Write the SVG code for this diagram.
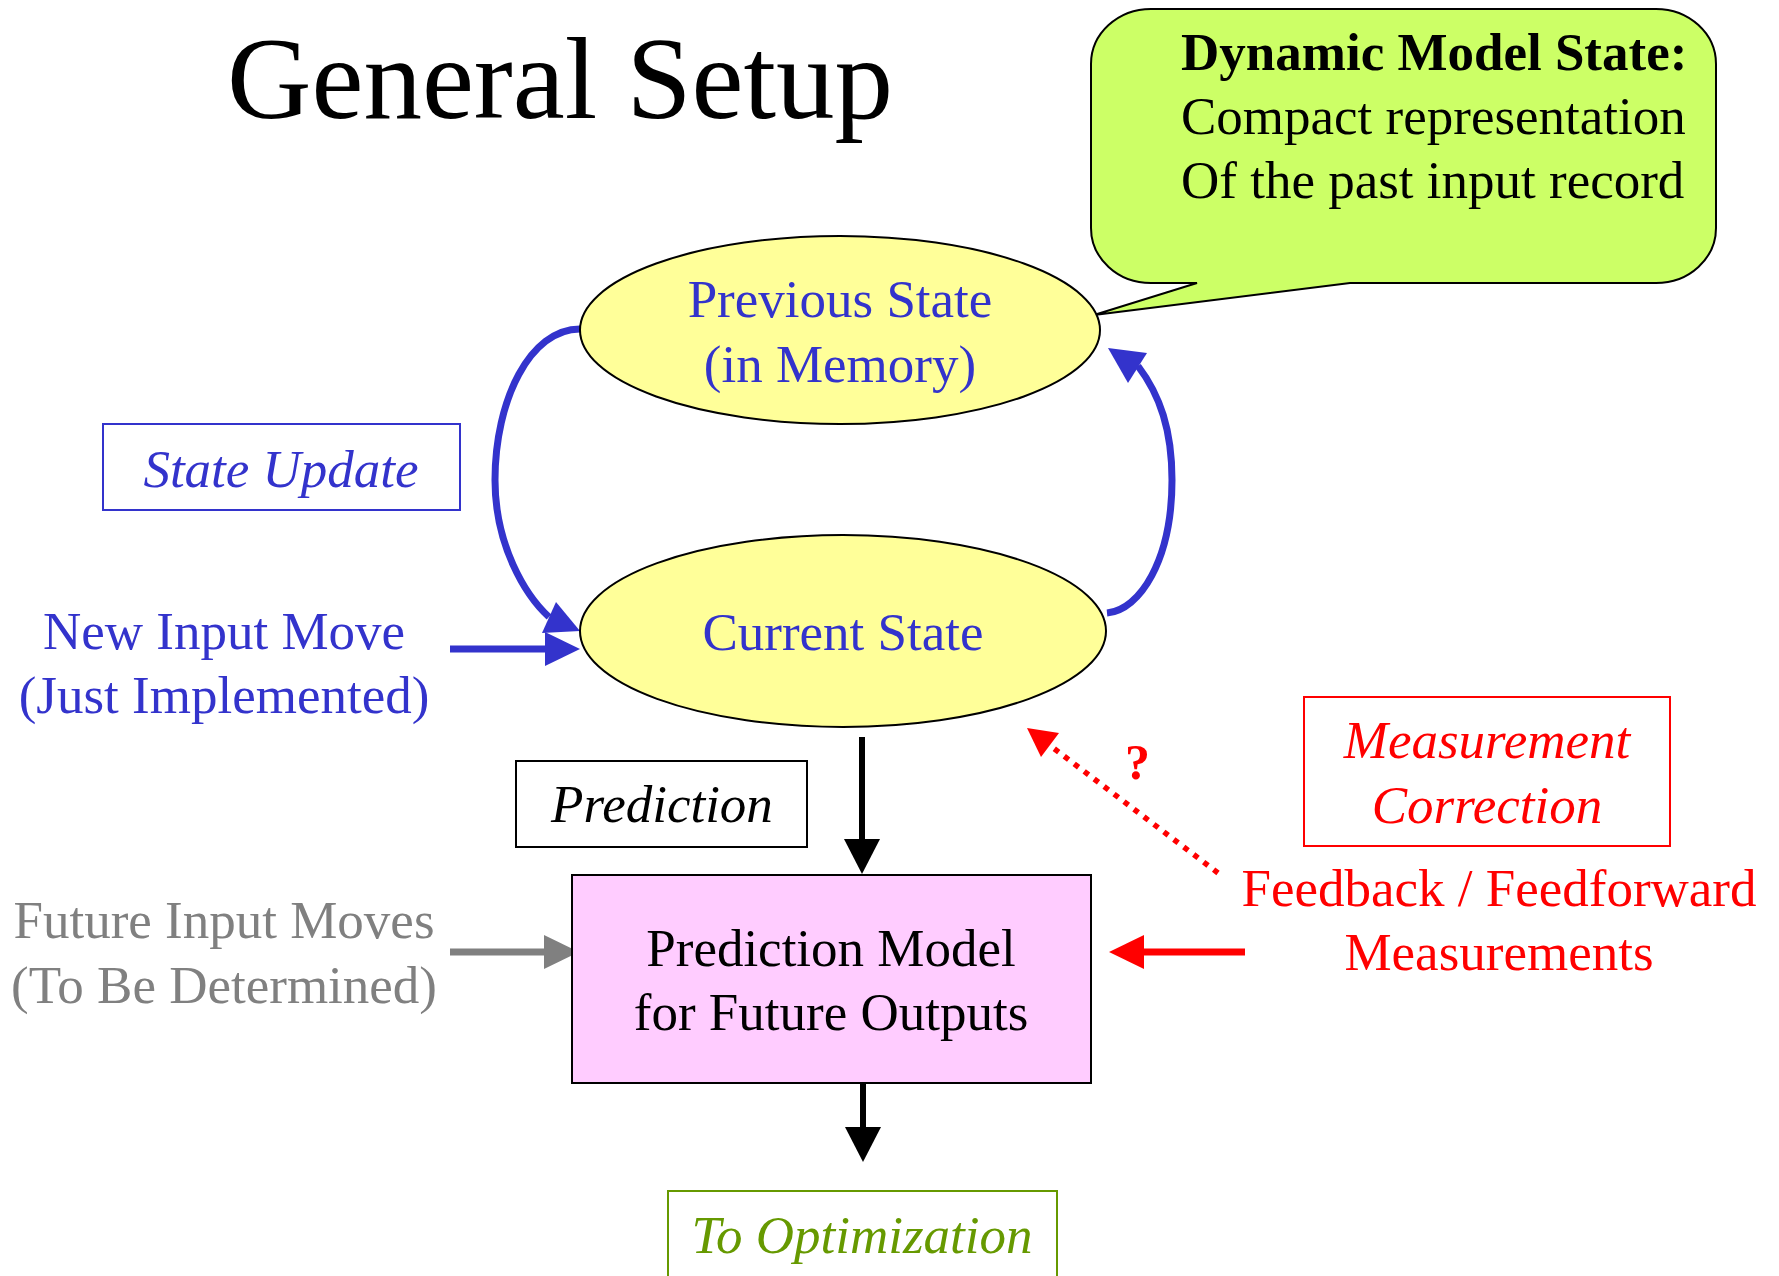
<svg xmlns="http://www.w3.org/2000/svg" width="1779" height="1276" viewBox="0 0 1779 1276">
  <style>
    text { font-family: "Liberation Serif", "Times New Roman", serif; font-size: 53px; }
    .mid { text-anchor: middle; }
    .it { font-style: italic; }
    .blue { fill: #3333CC; }
    .red { fill: #FF0000; }
    .gray { fill: #808080; }
    .green { fill: #669900; }
    .black { fill: #000000; }
    .state { fill: #FFFF99; stroke: #000000; stroke-width: 2; }
    .label { fill: #FFFFFF; stroke-width: 2; }
    .wire { fill: none; stroke-linecap: butt; }
  </style>
  <defs>
    <marker id="head-blue" markerUnits="userSpaceOnUse" markerWidth="36" markerHeight="34" refX="1" refY="17" orient="auto" overflow="visible">
      <path d="M0,0 L35,17 L0,34 Z" fill="#3333CC"/>
    </marker>
    <marker id="head-gray" markerUnits="userSpaceOnUse" markerWidth="36" markerHeight="34" refX="1" refY="17" orient="auto" overflow="visible">
      <path d="M0,0 L35,17 L0,34 Z" fill="#808080"/>
    </marker>
    <marker id="head-red" markerUnits="userSpaceOnUse" markerWidth="36" markerHeight="34" refX="1" refY="17" orient="auto" overflow="visible">
      <path d="M0,0 L35,17 L0,34 Z" fill="#FF0000"/>
    </marker>
    <marker id="head-black" markerUnits="userSpaceOnUse" markerWidth="36" markerHeight="36" refX="1" refY="18" orient="auto" overflow="visible">
      <path d="M0,0 L35,18 L0,36 Z" fill="#000000"/>
    </marker>
  </defs>

  <rect width="1779" height="1276" fill="#FFFFFF"/>

  <!-- title -->
  <text x="560" y="118" class="mid black" style="font-size:117px">General Setup</text>

  <!-- callout -->
  <g id="callout">
    <path d="M1151,9 H1656 A60,55 0 0 1 1716,64 V228 A60,55 0 0 1 1656,283 H1350 L1094,315 L1197,283 H1151 A60,55 0 0 1 1091,228 V64 A60,55 0 0 1 1151,9 Z" fill="#CCFF66" stroke="#000000" stroke-width="2"/>
    <text x="1181" y="70" class="black" style="font-weight:bold">Dynamic Model State:</text>
    <text x="1181" y="134" class="black">Compact representation</text>
    <text x="1181" y="198" class="black">Of the past input record</text>
  </g>

  <!-- connectors -->
  <g id="connectors">
    <!-- state update loop -->
    <path class="wire" d="M580,329 C530,329 495,400 495,480 C495,545 525,595 549,617" stroke="#3333CC" stroke-width="7"/>
    <polygon points="580,631 542,633 556,602" fill="#3333CC"/>
    <path class="wire" d="M1107,613 C1140,610 1172,560 1172,480 C1172,430 1160,395 1138,366" stroke="#3333CC" stroke-width="7"/>
    <polygon points="1108,348 1147,353 1128,383" fill="#3333CC"/>

    <!-- new input move -->
    <path class="wire" d="M450,649 H546" stroke="#3333CC" stroke-width="7" marker-end="url(#head-blue)"/>
    <!-- future input moves -->
    <path class="wire" d="M450,952 H545" stroke="#808080" stroke-width="7" marker-end="url(#head-gray)"/>
    <!-- measurements into the model -->
    <path class="wire" d="M1245,952 H1143" stroke="#FF0000" stroke-width="7" marker-end="url(#head-red)"/>
    <!-- prediction -->
    <path class="wire" d="M862,737 V840" stroke="#000000" stroke-width="6" marker-end="url(#head-black)"/>
    <!-- to optimization -->
    <path class="wire" d="M863,1084 V1128" stroke="#000000" stroke-width="6" marker-end="url(#head-black)"/>
    <!-- optional measurement correction -->
    <path class="wire" d="M1218,873 L1052,747" stroke="#FF0000" stroke-width="5.5" stroke-dasharray="5.5 7"/>
    <polygon points="1027,728 1059,733 1041,757" fill="#FF0000"/>
    <text x="1125" y="779" class="red" style="font-size:50px;font-weight:bold">?</text>
  </g>

  <!-- nodes -->
  <g id="previous-state">
    <ellipse class="state" cx="840" cy="330" rx="260" ry="94"/>
    <text x="840" y="317" class="mid blue">Previous State</text>
    <text x="840" y="382" class="mid blue">(in Memory)</text>
  </g>

  <g id="current-state">
    <ellipse class="state" cx="843" cy="631" rx="263" ry="96"/>
    <text x="843" y="650" class="mid blue">Current State</text>
  </g>

  <g id="state-update">
    <rect class="label" x="103" y="424" width="357" height="86" stroke="#3333CC"/>
    <text x="281" y="487" class="mid it blue">State Update</text>
  </g>

  <g id="new-input">
    <text x="224" y="649" class="mid blue">New Input Move</text>
    <text x="224" y="713" class="mid blue">(Just Implemented)</text>
  </g>

  <g id="prediction-label">
    <rect class="label" x="516" y="761" width="291" height="86" stroke="#000000"/>
    <text x="662" y="822" class="mid it black">Prediction</text>
  </g>

  <g id="prediction-model">
    <rect x="572" y="875" width="519" height="208" fill="#FFCCFF" stroke="#000000" stroke-width="2"/>
    <text x="831" y="966" class="mid black">Prediction Model</text>
    <text x="831" y="1030" class="mid black">for Future Outputs</text>
  </g>

  <g id="future-input">
    <text x="224" y="938" class="mid gray">Future Input Moves</text>
    <text x="224" y="1003" class="mid gray">(To Be Determined)</text>
  </g>

  <g id="measurement-correction">
    <rect class="label" x="1304" y="697" width="366" height="149" stroke="#FF0000"/>
    <text x="1487" y="758" class="mid it red">Measurement</text>
    <text x="1487" y="823" class="mid it red">Correction</text>
  </g>

  <g id="measurements">
    <text x="1499" y="906" class="mid red">Feedback / Feedforward</text>
    <text x="1499" y="970" class="mid red">Measurements</text>
  </g>

  <g id="to-optimization">
    <rect class="label" x="668" y="1191" width="389" height="110" stroke="#669900"/>
    <text x="862" y="1253" class="mid it green">To Optimization</text>
  </g>
</svg>
